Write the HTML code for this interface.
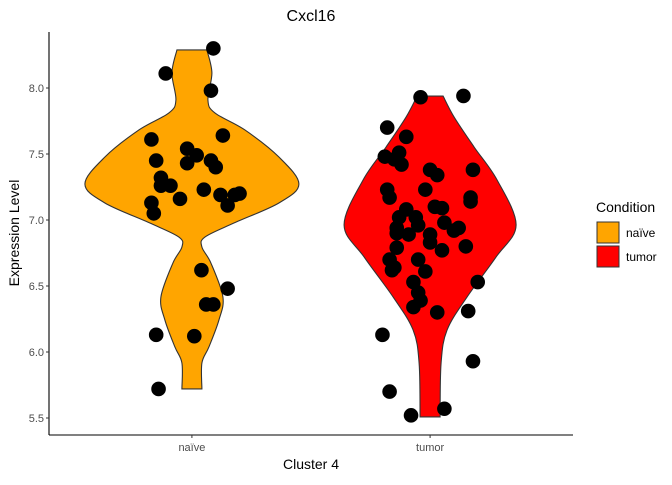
<!DOCTYPE html>
<html><head><meta charset="utf-8"><style>
body{margin:0;background:#fff;}
text{font-family:"Liberation Sans",sans-serif;}
</style></head><body>
<svg id="chart" width="672" height="480" viewBox="0 0 672 480">
<rect width="672" height="480" fill="#fff"/>
<g id="violins"></g><g id="points"></g><g id="axes"></g>
<text x="311" y="21" font-size="16" text-anchor="middle" fill="#000">Cxcl16</text>
<text x="311" y="469" font-size="14" text-anchor="middle" fill="#000">Cluster 4</text>
<text transform="translate(19,233) rotate(-90)" font-size="14" text-anchor="middle" fill="#000">Expression Level</text>
<g>
<text x="596" y="212" font-size="14" fill="#000">Condition</text>
<rect x="597" y="222" width="22" height="21" fill="#FFA500" stroke="#333" stroke-width="1"/>
<text x="626" y="237" font-size="12" fill="#000">naïve</text>
<rect x="597" y="246" width="22" height="21" fill="#FF0000" stroke="#333" stroke-width="1"/>
<text x="626" y="261" font-size="12" fill="#000">tumor</text>
</g>
</svg>
<script>
const categories=["naïve","tumor"];
const colors=["#FFA500","#FF0000"];
const yTicks=[5.5,6.0,6.5,7.0,7.5,8.0];
const naiveProfileV=[8.288,8.114,7.909,7.811,7.682,7.477,7.273,7.129,6.977,6.871,6.795,6.674,6.417,6.242,6.038,5.917,5.720];
const naiveProfileW=[15,20,16,23,53,87,107,87,42,13,10,19,31,27,17,10,10];
const tumorProfileV=[7.939,7.780,7.553,7.303,6.962,6.720,6.417,6.167,5.917,5.508];
const tumorProfileW=[13,24,44,67,86,66,37,17,11,10];
const naiveValues=[8.30,8.11,7.98,7.61,7.64,7.54,7.49,7.45,7.45,7.43,7.40,7.32,7.26,7.26,7.23,7.16,7.19,7.19,7.20,7.13,7.11,7.05,6.62,6.36,6.36,6.48,6.13,6.12,5.72];
const naiveJitter=[.09,-.11,.08,-.17,.13,-.02,.02,-.15,.08,-.02,.10,-.13,-.13,-.09,.05,-.05,.12,.18,.20,-.17,.15,-.16,.04,.09,.06,.15,-.15,.01,-.14];
const tumorValues=[7.93,7.94,7.70,7.63,7.48,7.51,7.46,7.42,7.38,7.34,7.38,7.23,7.23,7.17,7.17,7.14,7.08,7.02,7.10,7.09,7.02,6.98,6.94,6.94,6.90,6.89,6.89,6.92,6.79,6.80,6.83,6.77,6.70,6.70,6.62,6.61,6.53,6.45,6.34,6.39,6.30,6.53,6.31,6.13,5.93,5.70,5.52,5.57,6.64,6.96];
const tumorJitter=[-.04,.14,-.18,-.10,-.19,-.13,-.15,-.12,0,.03,.18,-.18,-.02,-.17,.17,.17,-.10,-.06,.02,.05,-.13,.06,.12,-.14,-.14,-.09,0,.10,-.14,.15,0,.05,-.05,-.17,-.16,-.02,-.07,-.05,-.07,-.04,.03,.20,.16,-.20,.18,-.17,-.08,.06,-.15,-.05];

const NS="http://www.w3.org/2000/svg";
const X0=49,X1=573,Y0=32,Y1=435;
const step=(X1-X0)/2.2;
function xScale(i){return X0+step*(0.6+i);}
function yScale(v){return 418-(v-5.5)*132;}
function mk(tag,attrs,parent){const e=document.createElementNS(NS,tag);for(const k in attrs)e.setAttribute(k,attrs[k]);parent.appendChild(e);return e;}
function smooth(pts){let d="M"+pts[0][0]+","+pts[0][1];
 for(let i=0;i<pts.length-1;i++){const p0=pts[Math.max(0,i-1)],p1=pts[i],p2=pts[i+1],p3=pts[Math.min(pts.length-1,i+2)];
  d+=" C"+(p1[0]+(p2[0]-p0[0])/6)+","+(p1[1]+(p2[1]-p0[1])/6)+" "+(p2[0]-(p3[0]-p1[0])/6)+","+(p2[1]-(p3[1]-p1[1])/6)+" "+p2[0]+","+p2[1];}
 return d;}
const vg=document.getElementById('violins');
[[naiveProfileV,naiveProfileW],[tumorProfileV,tumorProfileW]].forEach((p,i)=>{
 const cx=xScale(i);
 const right=p[0].map((v,j)=>[cx+p[1][j],yScale(v)]);
 const left=p[0].map((v,j)=>[cx-p[1][j],yScale(v)]).reverse();
 let d=smooth(right)+" L"+left[0][0]+","+left[0][1]+smooth(left).replace(/^M[^ ]+/,"")+" Z";
 const el=mk('path',{d:d,fill:colors[i],stroke:"#333",'stroke-width':1.1},vg);
 
 
});
const pg=document.getElementById('points');
[[naiveValues,naiveJitter],[tumorValues,tumorJitter]].forEach((s,i)=>{
 s[0].forEach((v,j)=>{
  const c=mk('circle',{cx:xScale(i+s[1][j]),cy:yScale(v),r:7.3,fill:"#000"},pg);
  
  
 });
});
const ag=document.getElementById('axes');
const yl=mk('line',{x1:X0,y1:Y0,x2:X0,y2:Y1,stroke:"#000",'stroke-width':1.1},ag);


const xl=mk('line',{x1:X0,y1:Y1,x2:X1,y2:Y1,stroke:"#000",'stroke-width':1.1},ag);


yTicks.forEach(t=>{
 const y=yScale(t);
 const tk=mk('line',{x1:X0-3,y1:y,x2:X0,y2:y,stroke:"#333"},ag);
 
 
 const tx=mk('text',{x:X0-5,y:y+4,'font-size':11,'text-anchor':'end',fill:'#4d4d4d'},ag);
 tx.textContent=t.toFixed(1);
 
 
});
categories.forEach((c,i)=>{
 const x=xScale(i);
 const tk=mk('line',{x1:x,y1:Y1,x2:x,y2:Y1+3,stroke:"#333"},ag);
 
 
 const tx=mk('text',{x:x,y:Y1+16,'font-size':11,'text-anchor':'middle',fill:'#4d4d4d'},ag);
 tx.textContent=c;
 
 
});
</script>
</body></html>
